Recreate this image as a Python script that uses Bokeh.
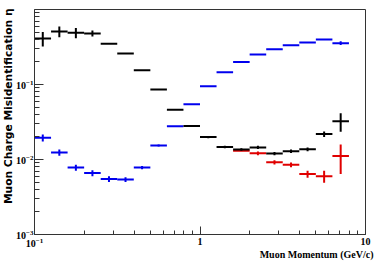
import math
from bokeh.plotting import figure
from bokeh.models import FixedTicker, LogTickFormatter, Title, Range1d
from bokeh.embed import file_html
from bokeh.resources import INLINE

# momentum bin edges (GeV/c)
bin_edges = [0.1, 0.1259, 0.1585, 0.1995, 0.2512, 0.3162, 0.3981, 0.5012, 0.631, 0.7943,
             1.0, 1.259, 1.585, 1.995, 2.512, 3.162, 3.981, 5.012, 6.31, 7.943, 10.0]

# black series (bins 0..18)
black_val = [0.41, 0.51, 0.49, 0.48, 0.35, 0.26, 0.155, 0.086, 0.046, 0.028,
             0.0199, 0.0147, 0.0136, 0.0145, 0.0120, 0.0129, 0.0137, 0.0218, 0.0324]
black_err = [0.09, 0.085, 0.075, 0.045, 0.0, 0.0, 0.0, 0.0, 0.0, 0.0,
             0.0007, 0.0006, 0.0005, 0.0007, 0.0006, 0.0007, 0.0008, 0.0018, 0.009]

# blue series (bins 0..18)
blue_val = [0.0195, 0.0124, 0.0078, 0.0066, 0.0055, 0.0054, 0.0078, 0.0154, 0.0278, 0.0547,
            0.095, 0.146, 0.200, 0.251, 0.296, 0.334, 0.363, 0.398, 0.356]
blue_err = [0.0021, 0.0012, 0.0007, 0.0006, 0.0005, 0.0004, 0.0004, 0.0005, 0.0, 0.0,
            0.0, 0.0, 0.0, 0.0, 0.0, 0.0, 0.0, 0.0, 0.02]

# red series (bins 12..18)
red_first_bin = 12
red_val = [0.0131, 0.0121, 0.0092, 0.0085, 0.0064, 0.0060, 0.0111]
red_err = [0.0, 0.0007, 0.0006, 0.0006, 0.0007, 0.0011, 0.0047]

x_major = [0.1, 1.0, 10.0]
x_minor = [0.2, 0.3, 0.4, 0.5, 0.6, 0.7, 0.8, 0.9, 2, 3, 4, 5, 6, 7, 8, 9]
y_major = [1e-3, 1e-2, 1e-1]
y_minor = [k * 1e-3 for k in range(2, 10)] + [k * 1e-2 for k in range(2, 10)] + [k * 1e-1 for k in range(2, 10)]

x_title = "Muon Momentum (GeV/c)"
y_title = "Muon Charge Misidentification \u03b7"

FONT = "Liberation Sans Narrow"

p = figure(width=374, height=264, x_axis_type="log", y_axis_type="log",
           x_range=Range1d(0.1, 10), y_range=Range1d(1e-3, 1),
           output_backend="svg", toolbar_location=None,
           min_border_left=34, min_border_right=9, min_border_top=9, min_border_bottom=30)
p.grid.visible = False
p.outline_line_color = "#333333"
p.outline_line_width = 1
p.background_fill_color = "white"
p.border_fill_color = "white"


def draw(vals, errs, first, color):
    x0, x1, xc, y, ylo, yhi = [], [], [], [], [], []
    for i, (v, e) in enumerate(zip(vals, errs)):
        b = first + i
        lo, hi = bin_edges[b], bin_edges[b + 1]
        x0.append(lo)
        x1.append(hi)
        xc.append(math.sqrt(lo * hi))
        y.append(v)
        ylo.append(v - e)
        yhi.append(v + e)
    p.segment(x0=x0, y0=y, x1=x1, y1=y, line_color=color, line_width=2)
    p.segment(x0=xc, y0=ylo, x1=xc, y1=yhi, line_color=color, line_width=2)


draw(blue_val, blue_err, 0, "#0000ee")
draw(red_val, red_err, red_first_bin, "#e00000")
draw(black_val, black_err, 0, "#000000")

for ax, major, minor, tin, mtin in ((p.xaxis[0], x_major, x_minor, 8, 4),
                                    (p.yaxis[0], y_major, y_minor, 9, 5)):
    ax.ticker = FixedTicker(ticks=major, minor_ticks=minor)
    ax.formatter = LogTickFormatter()
    ax.major_tick_in = tin
    ax.major_tick_out = 0
    ax.minor_tick_in = mtin
    ax.minor_tick_out = 0
    ax.axis_line_color = "#333333"
    ax.major_tick_line_color = "#333333"
    ax.minor_tick_line_color = "#333333"
    ax.major_label_text_font = FONT
    ax.major_label_text_font_style = "bold"
    ax.major_label_text_font_size = "10px"
    ax.major_label_text_color = "black"

p.xaxis[0].major_label_overrides = {1.0: "1", 10.0: "10"}
p.xaxis[0].major_label_standoff = 3
p.yaxis[0].major_label_standoff = 1

p.add_layout(Title(text=y_title, align="right", offset=-1, standoff=-3,
                   text_font="DejaVu Sans", text_font_style="bold",
                   text_font_size="10.7px", text_color="black"), "left")
p.add_layout(Title(text=x_title, align="right", offset=-8, standoff=-6,
                   text_font=FONT, text_font_style="bold",
                   text_font_size="10px", text_color="black"), "below")

open("out.html", "w").write(file_html(p, INLINE))
